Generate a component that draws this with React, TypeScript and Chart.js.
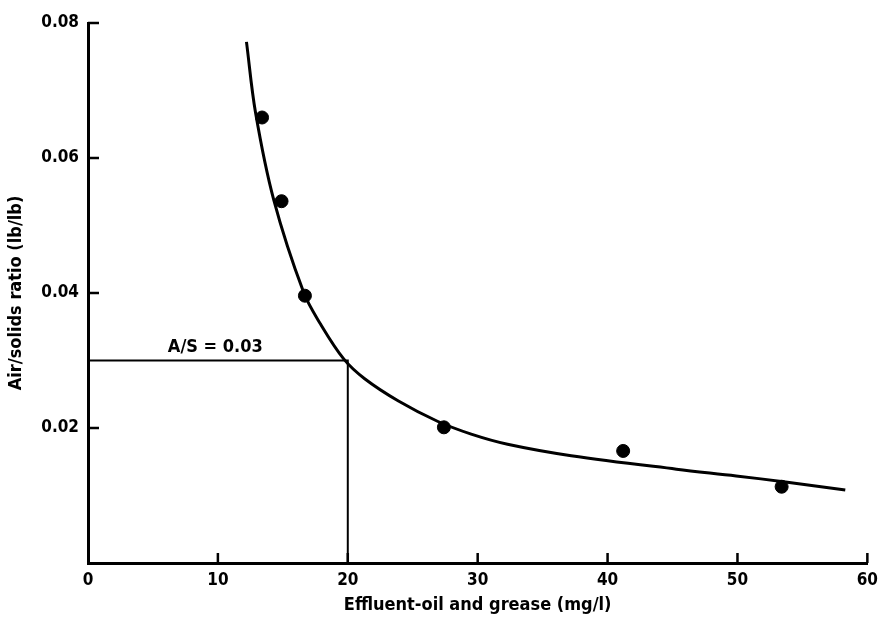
import React, { useEffect, useRef } from "react";
import { Chart, registerables } from "chart.js";

Chart.register(...registerables);

// Measured data points (effluent oil & grease mg/l vs air/solids ratio)
const pointX = [13.4, 14.9, 16.7, 27.4, 41.2, 53.4];
const pointY = [0.066, 0.0536, 0.0396, 0.0201, 0.0166, 0.0113];

// Fitted curve
const curveX = [12.2, 12.9, 14.3, 16.6, 17.9, 19.7, 21.3, 23.9, 26.9, 29.5, 32.3, 37.2, 45.3, 49.9, 53.7, 58.3];
const curveY = [0.0772, 0.0667, 0.0538, 0.0401, 0.0354, 0.0302, 0.0273, 0.0240, 0.0210, 0.0191, 0.0176, 0.0159, 0.0139, 0.0129, 0.0120, 0.0108];

// Design reference A/S = 0.03
const refX = [0, 20, 20];
const refY = [0.03, 0.03, 0];
const refLabel = "A/S = 0.03";
const refLabelX = 9.8;
const refLabelY = 0.03;

const xTicks = [0, 10, 20, 30, 40, 50, 60];
const yTicks = [0, 0.02, 0.04, 0.06, 0.08];
const xTitle = "Effluent-oil and grease (mg/l)";
const yTitle = "Air/solids ratio (lb/lb)";

const FONT = "'DejaVu Sans Condensed', 'DejaVu Sans', sans-serif";

const innerTicks = {
  id: "innerTicks",
  afterDatasetsDraw(chart: any) {
    const { ctx, chartArea, scales } = chart;
    const x = scales.x;
    const y = scales.y;
    ctx.save();
    ctx.strokeStyle = "#000";
    ctx.lineWidth = 2.5;
    ctx.beginPath();
    xTicks.forEach((v) => {
      if (v === 0) return;
      const px = x.getPixelForValue(v);
      ctx.moveTo(px, chartArea.bottom);
      ctx.lineTo(px, chartArea.bottom - 10);
    });
    yTicks.forEach((v) => {
      if (v === 0) return;
      const py = y.getPixelForValue(v);
      ctx.moveTo(chartArea.left, py);
      ctx.lineTo(chartArea.left + 11, py);
    });
    ctx.stroke();
    // reference label
    ctx.fillStyle = "#000";
    ctx.font = `bold 18px ${FONT}`;
    ctx.textAlign = "center";
    ctx.textBaseline = "bottom";
    ctx.fillText(refLabel, x.getPixelForValue(refLabelX), y.getPixelForValue(refLabelY) - 4);
    ctx.restore();
  },
};

export default function App() {
  const ref = useRef<HTMLCanvasElement>(null);
  useEffect(() => {
    document.body.style.margin = "0";
    const chart = new Chart(ref.current!, {
      type: "scatter",
      data: {
        datasets: [
          {
            type: "line",
            data: curveX.map((v, i) => ({ x: v, y: curveY[i] })),
            borderColor: "#000",
            borderWidth: 3,
            pointRadius: 0,
            tension: 0.35,
            fill: false,
          },
          {
            type: "line",
            data: refX.map((v, i) => ({ x: v, y: refY[i] })),
            borderColor: "#000",
            borderWidth: 2,
            pointRadius: 0,
            tension: 0,
            fill: false,
          },
          {
            data: pointX.map((v, i) => ({ x: v, y: pointY[i] })),
            backgroundColor: "#000",
            borderColor: "#000",
            pointRadius: 6.5,
          },
        ],
      },
      options: {
        animation: false,
        responsive: false,
        maintainAspectRatio: false,
        layout: { padding: { top: 23, right: 12, left: 0, bottom: 0 } },
        plugins: { legend: { display: false }, tooltip: { enabled: false } },
        scales: {
          x: {
            type: "linear",
            min: 0,
            max: 60,
            afterFit: (s: any) => { s.height = 54; },
            afterBuildTicks: (s: any) => { s.ticks = xTicks.map((v) => ({ value: v })); },
            grid: { display: false, drawTicks: false },
            border: { display: true, color: "#000", width: 3 },
            ticks: {
              padding: 7,
              color: "#000",
              font: { family: FONT, size: 17, weight: "bold" },
              callback: (v: any) => String(v),
            },
            title: {
              display: true,
              text: xTitle,
              color: "#000",
              font: { family: FONT, size: 18, weight: "bold" },
              padding: { top: 0, bottom: 1 },
            },
          },
          y: {
            type: "linear",
            min: 0,
            max: 0.08,
            afterFit: (s: any) => { s.width = 88; },
            afterBuildTicks: (s: any) => { s.ticks = yTicks.map((v) => ({ value: v })); },
            grid: { display: false, drawTicks: false },
            border: { display: true, color: "#000", width: 3 },
            ticks: {
              padding: 9,
              color: "#000",
              font: { family: FONT, size: 17, weight: "bold" },
              callback: (v: any) => (v === 0 ? "" : Number(v).toFixed(2)),
            },
            title: {
              display: true,
              text: yTitle,
              color: "#000",
              font: { family: FONT, size: 18, weight: "bold" },
              padding: { top: 6, bottom: 0 },
            },
          },
        },
      },
      plugins: [innerTicks],
    } as any);
    return () => chart.destroy();
  }, []);
  return (
    <div style={{ width: 885, height: 617, background: "#fff" }}>
      <canvas ref={ref} width={885} height={617} style={{ display: "block" }} />
    </div>
  );
}
